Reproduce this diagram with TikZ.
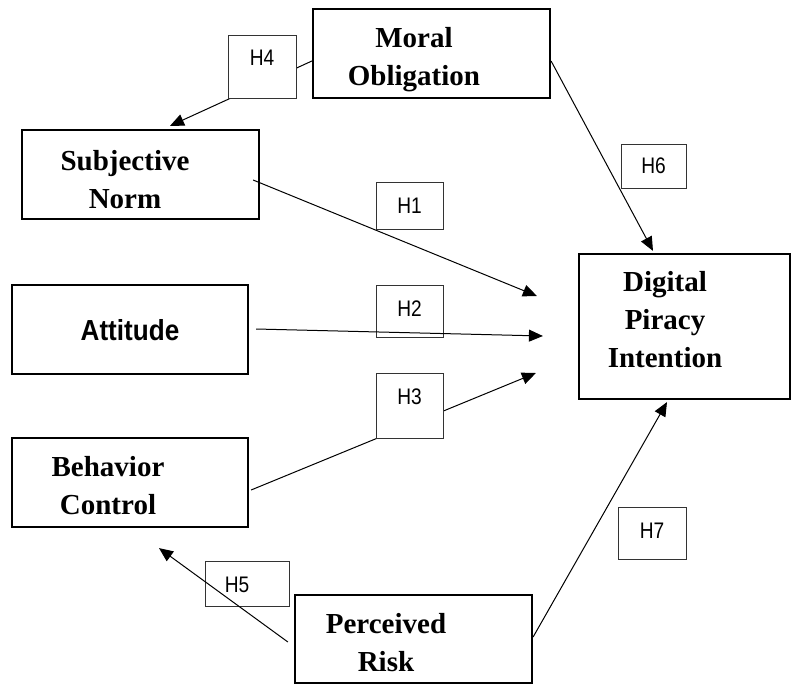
\documentclass[tikz,border=0pt]{standalone}
\usepackage{fontspec}
\setmainfont{Liberation Serif}
\newfontfamily\hypfont[FakeStretch=0.85]{Liberation Sans}
\newfontfamily\attfont[FakeStretch=0.9]{Liberation Sans}
\usetikzlibrary{arrows.meta,calc}
\tikzset{
  flow/.style={-{Triangle[length=14pt,width=12pt]},line width=1pt,draw=black},
  factor/.style={draw=black,line width=2.2pt,inner sep=0pt},
  factortext/.style={font=\fontsize{29}{38}\selectfont\bfseries,align=center,inner sep=0pt},
  attext/.style={font=\attfont\fontsize{29}{34}\selectfont\bfseries,inner sep=0pt},
  hyp/.style={draw=black!80,line width=0.8pt,inner sep=0pt,text height=31pt,
              font=\hypfont\fontsize{22.5}{26}\selectfont},
  hypcover/.style={hyp,fill=white},
}

\begin{document}
\begin{tikzpicture}[x=1pt,y=-1pt]
  \useasboundingbox (0,0) rectangle (792,685);
    \node[factor,minimum width=237pt,minimum height=89pt] (moral) at (431.5,53.5) {};
    \node[factor,minimum width=237pt,minimum height=89pt] (subj) at (140.5,174.5) {};
    \node[factor,minimum width=236pt,minimum height=89pt] (att) at (130,329.5) {};
    \node[factor,minimum width=236pt,minimum height=89pt] (beh) at (130,482.5) {};
    \node[factor,minimum width=237pt,minimum height=88pt] (perc) at (413.5,639) {};
    \node[factor,minimum width=211pt,minimum height=145pt] (dpi) at (684.5,326.5) {};
    \node[factortext] (moral-t) at ($(moral)+(-17.5,6)$) {Moral\\Obligation};
    \node[factortext] (subj-t) at ($(subj)+(-15.5,5.5)$) {Subjective\\Norm};
    \node[attext] (att-t) at ($(att)+(0,1)$) {Attitude};
    \node[factortext] (beh-t) at ($(beh)+(-22,3)$) {Behavior\\Control};
    \node[factortext] (perc-t) at ($(perc)+(-27.5,3.5)$) {Perceived\\Risk};
    \node[factortext] (dpi-t) at ($(dpi)+(-19.5,-6.5)$) {Digital\\Piracy\\Intention};
    \node[hyp,minimum width=67pt,text depth=16pt] (h1) at (409.5,205.5) {H1};
    \node[hyp,minimum width=67pt,text depth=21pt] (h2) at (409.5,311) {H2};
    \node[hyp,minimum width=84pt,text depth=14pt] (h5) at (247,583.5) {H5\hspace*{20pt}};
    \node[hyp,minimum width=65pt,text height=29pt,text depth=15pt] (h6) at (653.5,166) {H6};
    \node[hyp,minimum width=68pt,text depth=21pt] (h7) at (652,533) {H7};
    \draw[flow] ($(moral.west)+(0,7.5)$) -- ($(subj.north)+(29.5,-3)$);
    \draw[flow] ($(subj.east)+(-7,5.5)$) -- ($(dpi.west)+(-41,-30.5)$);
    \draw[flow] ($(att.east)+(7,-0.5)$) -- ($(dpi.west)+(-35,9.5)$);
    \draw[flow] ($(beh.east)+(2,7.5)$) -- ($(dpi.west)+(-42,46.5)$);
    \draw[flow] ($(perc.west)+(-6,3)$) -- ($(beh.south)+(29,20)$);
    \draw[flow] ($(moral.east)+(0,7.5)$) -- ($(dpi.north)+(-31.5,-2)$);
    \draw[flow] ($(perc.east)+(0,-2)$) -- ($(dpi.south)+(-17.5,2)$);
    \node[hypcover,minimum width=67pt,text depth=34pt] (h3) at (409.5,405.5) {H3};
    \node[hypcover,minimum width=68pt,text depth=32pt] (h4) at (262,66.5) {H4};
\end{tikzpicture}
\end{document}
